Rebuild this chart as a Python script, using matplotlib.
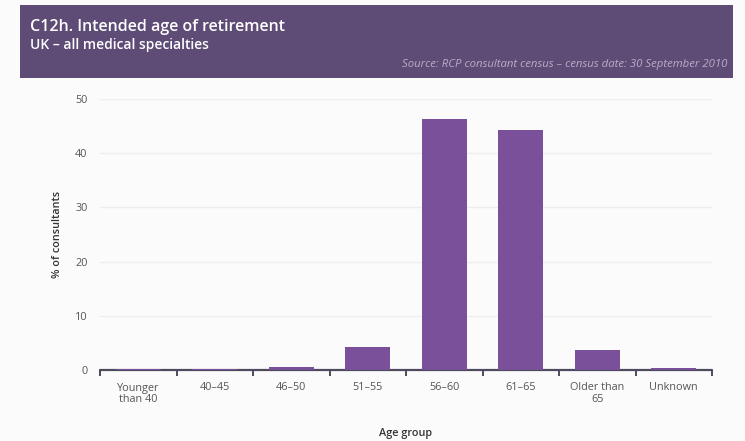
import matplotlib
matplotlib.use("Agg")
import matplotlib.pyplot as plt
from matplotlib.patches import Rectangle

# Intended age of retirement, % of consultants
categories = ["Younger\nthan 40", "40–45", "46–50", "51–55", "56–60",
              "61–65", "Older than\n65", "Unknown"]
values = [0.1, 0.1, 0.5, 4.2, 46.3, 44.3, 3.7, 0.3]
y_ticks = [0, 10, 20, 30, 40, 50]

title = "C12h. Intended age of retirement"
subtitle = "UK – all medical specialties"
source = "Source: RCP consultant census – census date: 30 September 2010"

plt.rcParams['font.family'] = ['Open Sans', 'DejaVu Sans']

W, H = 745, 441
fig = plt.figure(figsize=(W / 100, H / 100), dpi=100)
fig.patch.set_facecolor("#fcfbfc")

# Header band
fig.patches.append(Rectangle((20 / W, 1 - 78 / H), 713 / W, 73 / H,
                             transform=fig.transFigure, facecolor="#5e4b76",
                             edgecolor="none", zorder=0))
fig.text(30 / W, 1 - 27 / H, title, color="white", fontsize=11.5,
         fontweight="semibold", va="center", ha="left")
fig.text(30 / W, 1 - 45 / H, subtitle, color="white", fontsize=10,
         fontweight="semibold", va="center", ha="left")
fig.text(727 / W, 1 - 64 / H, source, color="#b9aec8", fontsize=8.2,
         style="italic", va="center", ha="right")

ax = fig.add_axes([100 / W, 1 - 370 / H, 612 / W, 271 / H])
ax.set_facecolor("none")

x = list(range(len(categories)))
ax.bar(x, values, width=0.59, color="#7b509a", zorder=3)

ax.set_xlim(-0.5, len(categories) - 0.5)
ax.set_ylim(0, 50)
ax.set_yticks(y_ticks)
ax.yaxis.grid(True, color="#f1ecf0", linewidth=1.0, zorder=0)
ax.set_axisbelow(True)

for s in ["top", "right", "left"]:
    ax.spines[s].set_visible(False)
ax.spines["bottom"].set_color("#4e4a5e")
ax.spines["bottom"].set_linewidth(1.6)
ax.spines["bottom"].set_capstyle("round")

# Tick marks at category boundaries, labels centred on bars
ax.set_xticks([i - 0.5 for i in range(len(categories) + 1)], minor=False)
ax.set_xticklabels([])
ax.tick_params(axis="x", which="major", length=4, width=1.4, color="#4e4a5e",
               direction="out")
ax.set_xticks(x, minor=True)
ax.set_xticklabels(categories, minor=True, fontsize=7.8, color="#555555",
                   linespacing=1.1)
ax.tick_params(axis="x", which="minor", length=0, pad=9)

ax.tick_params(axis="y", length=0, labelsize=7.8, labelcolor="#555555", pad=9)

ax.set_xlabel("Age group", fontsize=7.8, fontweight="semibold",
              color="#333333", labelpad=16)
ax.set_ylabel("% of consultants", fontsize=7.8, fontweight="semibold",
              color="#333333", labelpad=9)

fig.savefig("out.png", dpi=100, facecolor=fig.get_facecolor())
